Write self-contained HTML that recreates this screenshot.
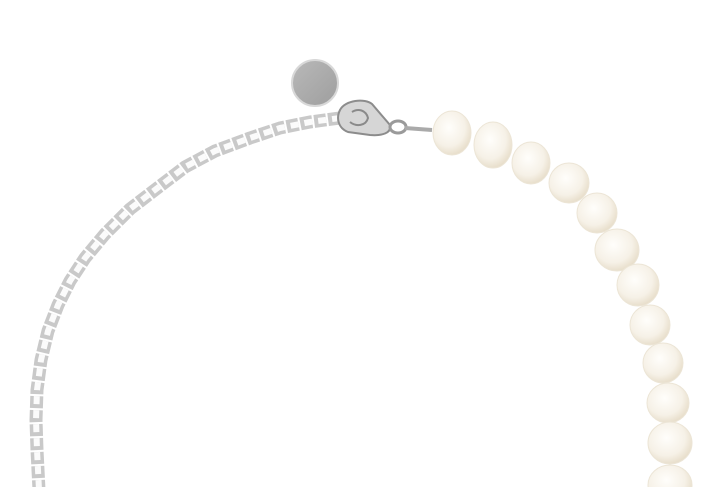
<!DOCTYPE html>
<html><head><meta charset="utf-8"><style>
html,body{margin:0;padding:0;background:#fff;width:725px;height:487px;overflow:hidden}
</style></head><body>
<svg width="725" height="487" viewBox="0 0 725 487" xmlns="http://www.w3.org/2000/svg">
<defs>
<radialGradient id="p" cx="0.42" cy="0.38" r="0.65">
<stop offset="0" stop-color="#fffefb"/>
<stop offset="0.65" stop-color="#f6f1e7"/>
<stop offset="1" stop-color="#e6dcc8"/>
</radialGradient>
<linearGradient id="d" x1="0" y1="0" x2="1" y2="1">
<stop offset="0" stop-color="#b9b9b9"/><stop offset="1" stop-color="#9e9e9e"/>
</linearGradient>
</defs>
<!-- chain -->
<polyline points="340,118 310,122 280,128 250,138 215,151 185,167 160,186 130,209 105,234 85,258 70,281 58,305 48,331 41,360 37,390 36,420 37,450 39,490" fill="none" stroke="#c9c9c9" stroke-width="13" stroke-linejoin="round" stroke-dasharray="12 2"/>
<polyline points="340,118 310,122 280,128 250,138 215,151 185,167 160,186 130,209 105,234 85,258 70,281 58,305 48,331 41,360 37,390 36,420 37,450 39,490" fill="none" stroke="#fbfbfb" stroke-width="6" stroke-linejoin="round" stroke-dasharray="8 6"/>
<!-- disc -->
<circle cx="315" cy="83" r="23" fill="url(#d)" stroke="#d8d8d8" stroke-width="2"/>
<!-- clasp -->
<path d="M340,110 C345,100 365,98 372,104 L390,125 C392,133 382,136 370,135 L348,132 C338,128 336,118 340,110 Z" fill="#d6d6d6" stroke="#8c8c8c" stroke-width="2"/>
<path d="M352,112 C358,108 366,110 368,118 C366,126 356,127 350,122" fill="none" stroke="#8a8a8a" stroke-width="2"/>
<ellipse cx="398" cy="127" rx="8" ry="6" fill="none" stroke="#9a9a9a" stroke-width="3"/>
<path d="M405,128 L432,130" stroke="#aaa" stroke-width="4"/>
<!-- pearls -->
<g fill="url(#p)" stroke="#ece5d6" stroke-width="1">
<ellipse cx="452" cy="133" rx="19" ry="22"/>
<ellipse cx="493" cy="145" rx="19" ry="23"/>
<ellipse cx="531" cy="163" rx="19" ry="21"/>
<ellipse cx="569" cy="183" rx="20" ry="20"/>
<ellipse cx="597" cy="213" rx="20" ry="20"/>
<ellipse cx="617" cy="250" rx="22" ry="21"/>
<ellipse cx="638" cy="285" rx="21" ry="21"/>
<ellipse cx="650" cy="325" rx="20" ry="20"/>
<ellipse cx="663" cy="363" rx="20" ry="20"/>
<ellipse cx="668" cy="403" rx="21" ry="20"/>
<ellipse cx="670" cy="443" rx="22" ry="21"/>
<ellipse cx="670" cy="485" rx="22" ry="20"/>
</g>
</svg>
</body></html>
